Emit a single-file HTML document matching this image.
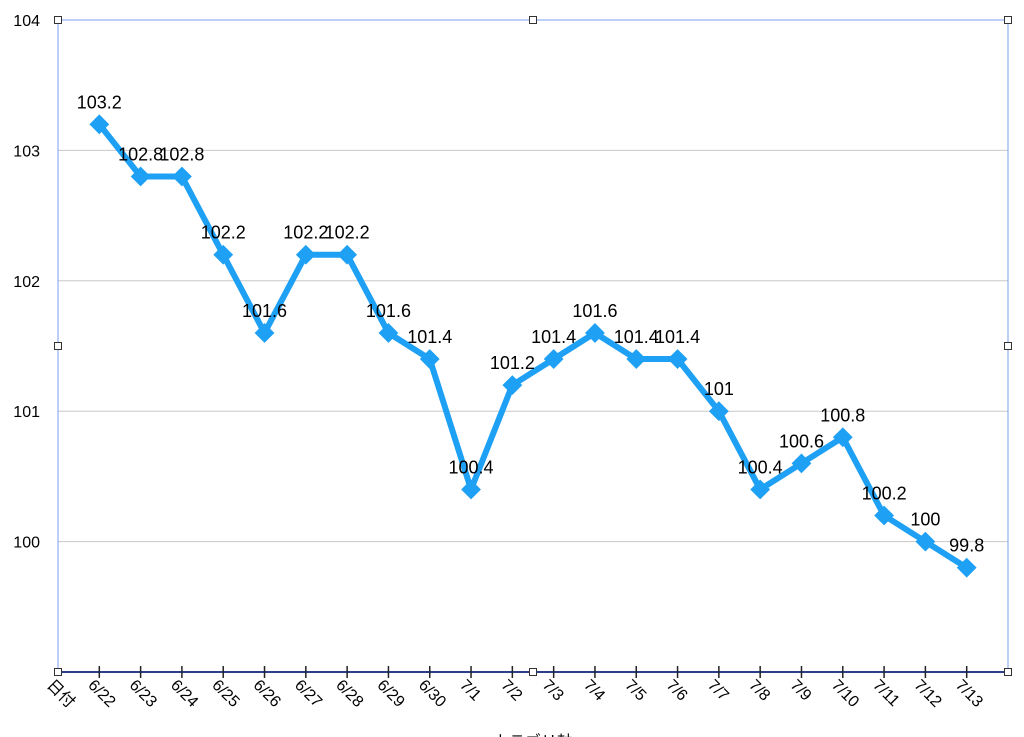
<!DOCTYPE html>
<html><head><meta charset="utf-8"><style>
html,body{margin:0;padding:0;background:#fff;}
svg{display:block;font-family:"Liberation Sans","Noto Sans CJK JP",sans-serif;}
</style></head><body>
<svg id="c" width="1024" height="737" viewBox="0 0 1024 737"></svg>
<script>
const categories=["6/22","6/23","6/24","6/25","6/26","6/27","6/28","6/29","6/30","7/1","7/2","7/3","7/4","7/5","7/6","7/7","7/8","7/9","7/10","7/11","7/12","7/13"];
const values=[103.2,102.8,102.8,102.2,101.6,102.2,102.2,101.6,101.4,100.4,101.2,101.4,101.6,101.4,101.4,101,100.4,100.6,100.8,100.2,100,99.8];
const yTicks=[100,101,102,103,104];
const NS="http://www.w3.org/2000/svg";
const svg=document.getElementById('c');
const L=58,R=1008,T=20,B=672,yMin=99,yMax=104;
const step=(R-L)/23;
function xS(i){return L+(i+1)*step;}
function yS(v){return B-(v-yMin)/(yMax-yMin)*(B-T);}
function mk(tag,attrs,parent){const e=document.createElementNS(NS,tag);for(const k in attrs)e.setAttribute(k,attrs[k]);(parent||svg).appendChild(e);return e;}
// grid
yTicks.forEach(t=>{
  if(t<104){const g=mk('line',{x1:L,x2:R,y1:yS(t),y2:yS(t),stroke:'#c8c8c8','stroke-width':1});
  
  }
  const tx=mk('text',{x:40,y:yS(t)+6,'text-anchor':'end','font-size':16,fill:'#000'});
  tx.textContent=t;
  
  
});
const border=mk('rect',{x:L,y:T,width:R-L,height:B-T,fill:'none',stroke:'#7b9cf0','stroke-width':1});


const ax=mk('line',{x1:L,x2:R,y1:B,y2:B,stroke:'#2b3f8c','stroke-width':2});


// x labels
const l0=mk('text',{transform:`translate(${L-12},${B+14}) rotate(45)`,'font-size':16});
l0.textContent='日付';


categories.forEach((c,i)=>{
  const x=xS(i);
  const tk=mk('line',{x1:x,x2:x,y1:B-6,y2:B+6,stroke:'#222','stroke-width':1.5});
  
  
  const tx=mk('text',{transform:`translate(${x-12},${B+14}) rotate(45)`,'font-size':16});
  tx.textContent=c;
  
  
});
const at=mk('text',{x:533,y:747,'text-anchor':'middle','font-size':16});
at.textContent='カテゴリ軸';


// line
const pts=values.map((v,i)=>xS(i)+','+yS(v)).join(' ');
const pl=mk('polyline',{points:pts,fill:'none',stroke:'#1ea0f5','stroke-width':6,'stroke-linejoin':'round'});


values.forEach((v,i)=>{
  const x=xS(i),y=yS(v);
  const m=mk('rect',{x:x-7,y:y-7,width:14,height:14,fill:'#1ea0f5',transform:`rotate(45 ${x} ${y})`});
  
  
  const tx=mk('text',{x:x,y:y-16,'text-anchor':'middle','font-size':18,fill:'#000'});
  tx.textContent=v;
  
  
});
// selection handles
[[L,T],[533,T],[R,T],[L,346],[R,346],[L,B],[533,B],[R,B]].forEach(p=>{
  const h=mk('rect',{x:p[0]-3.5,y:p[1]-3.5,width:7,height:7,fill:'#fff',stroke:'#333','stroke-width':1});
  
  
});
</script>
</body></html>
